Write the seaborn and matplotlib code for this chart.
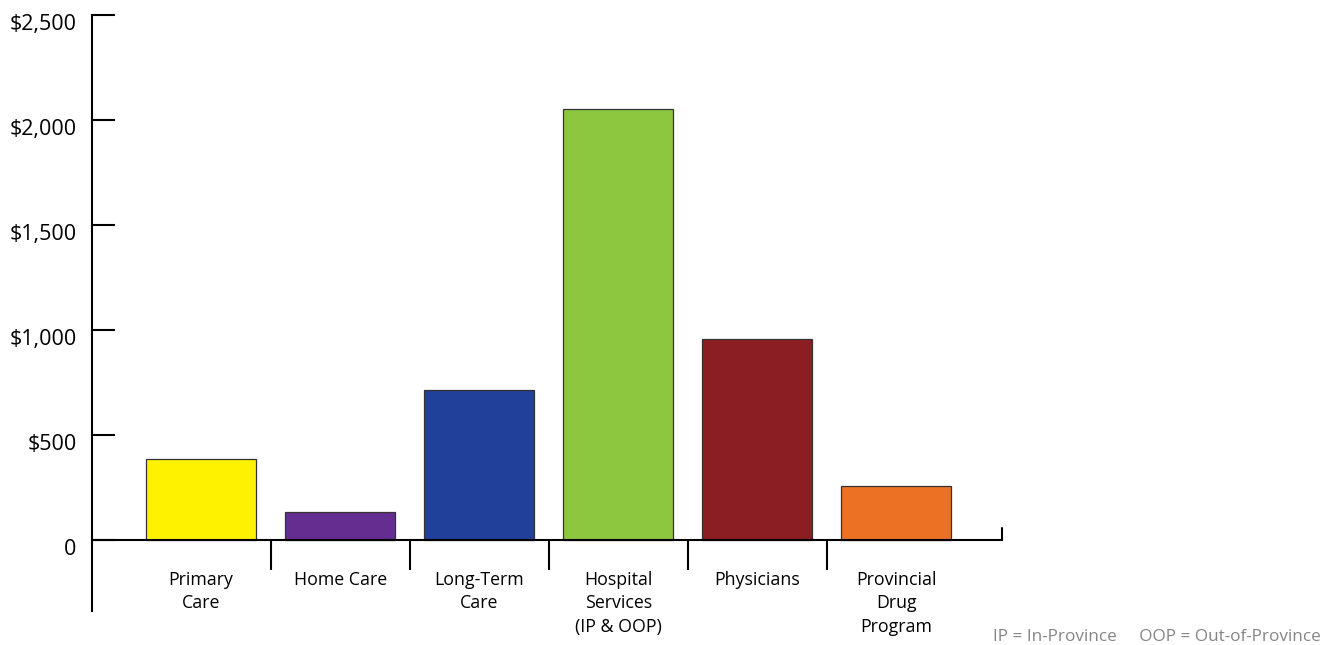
import matplotlib
matplotlib.use("Agg")
import matplotlib.pyplot as plt
import matplotlib.transforms as mtransforms
import seaborn as sns
import pandas as pd

# data
categories = ["Primary\nCare", "Home Care", "Long-Term\nCare", "Hospital\nServices\n(IP & OOP)",
              "Physicians", "Provincial\nDrug\nProgram"]
values = [386, 133, 714, 2052, 957, 257]
colors = ["#FFF200", "#662D91", "#21409A", "#8DC63F", "#8B1E22", "#EC7125"]
ytick_vals = [0, 500, 1000, 1500, 2000, 2500]
ytick_labels = ["0", "$500", "$1,000", "$1,500", "$2,000", "$2,500"]
footnote = "IP = In-Province     OOP = Out-of-Province"

sns.set_style("white")
plt.rcParams["font.family"] = ["Open Sans", "DejaVu Sans"]
plt.rcParams["text.color"] = "black"

df = pd.DataFrame({"category": categories, "value": values})

fig = plt.figure(figsize=(13.37, 6.45), dpi=100)
ax = fig.add_axes([92 / 1337, 34 / 645, 910 / 1337, 596 / 645])

sns.barplot(data=df, x="category", y="value", hue="category", palette=colors,
            saturation=1, legend=False, width=0.79, edgecolor="#333333",
            linewidth=0.9, ax=ax)

ax.set_xlim(-0.784, 5.76)
ax.set_ylim(-338, 2500)
ax.set_xlabel("")
ax.set_ylabel("")

# spines: left full height, bottom sits at zero
for s in ["top", "right"]:
    ax.spines[s].set_visible(False)
ax.spines["left"].set_linewidth(1.5)
ax.spines["left"].set_color("black")
ax.spines["bottom"].set_position(("data", 0))
ax.spines["bottom"].set_linewidth(1.5)
ax.spines["bottom"].set_color("black")

ax.set_yticks(ytick_vals)
ax.set_yticklabels(ytick_labels)
ax.tick_params(axis="y", direction="in", length=16.5, width=1.5, pad=11,
               labelsize=15.5, colors="black", left=True)
offset = mtransforms.ScaledTranslation(0, -7 / 100, fig.dpi_scale_trans)
for lbl in ax.get_yticklabels():
    lbl.set_transform(lbl.get_transform() + offset)

ax.set_xticks(range(len(categories)))
ax.set_xticklabels(categories, fontsize=12.8, linespacing=1.42, color="black")
ax.tick_params(axis="x", which="major", length=0, pad=22)
ax.set_xticks([i + 0.5 for i in range(len(categories) - 1)], minor=True)
ax.tick_params(axis="x", which="minor", direction="out", length=21.6, width=1.5,
               bottom=True, color="black")

# small upward tick closing the axis on the right
ax.plot([5.76, 5.76], [0, 57], color="black", lw=1.5, clip_on=False)

fig.text(1321 / 1337, 1 - 637 / 645, footnote, ha="right", va="center",
         fontsize=12.3, color="#858585")

fig.savefig("out.png", dpi=100)
